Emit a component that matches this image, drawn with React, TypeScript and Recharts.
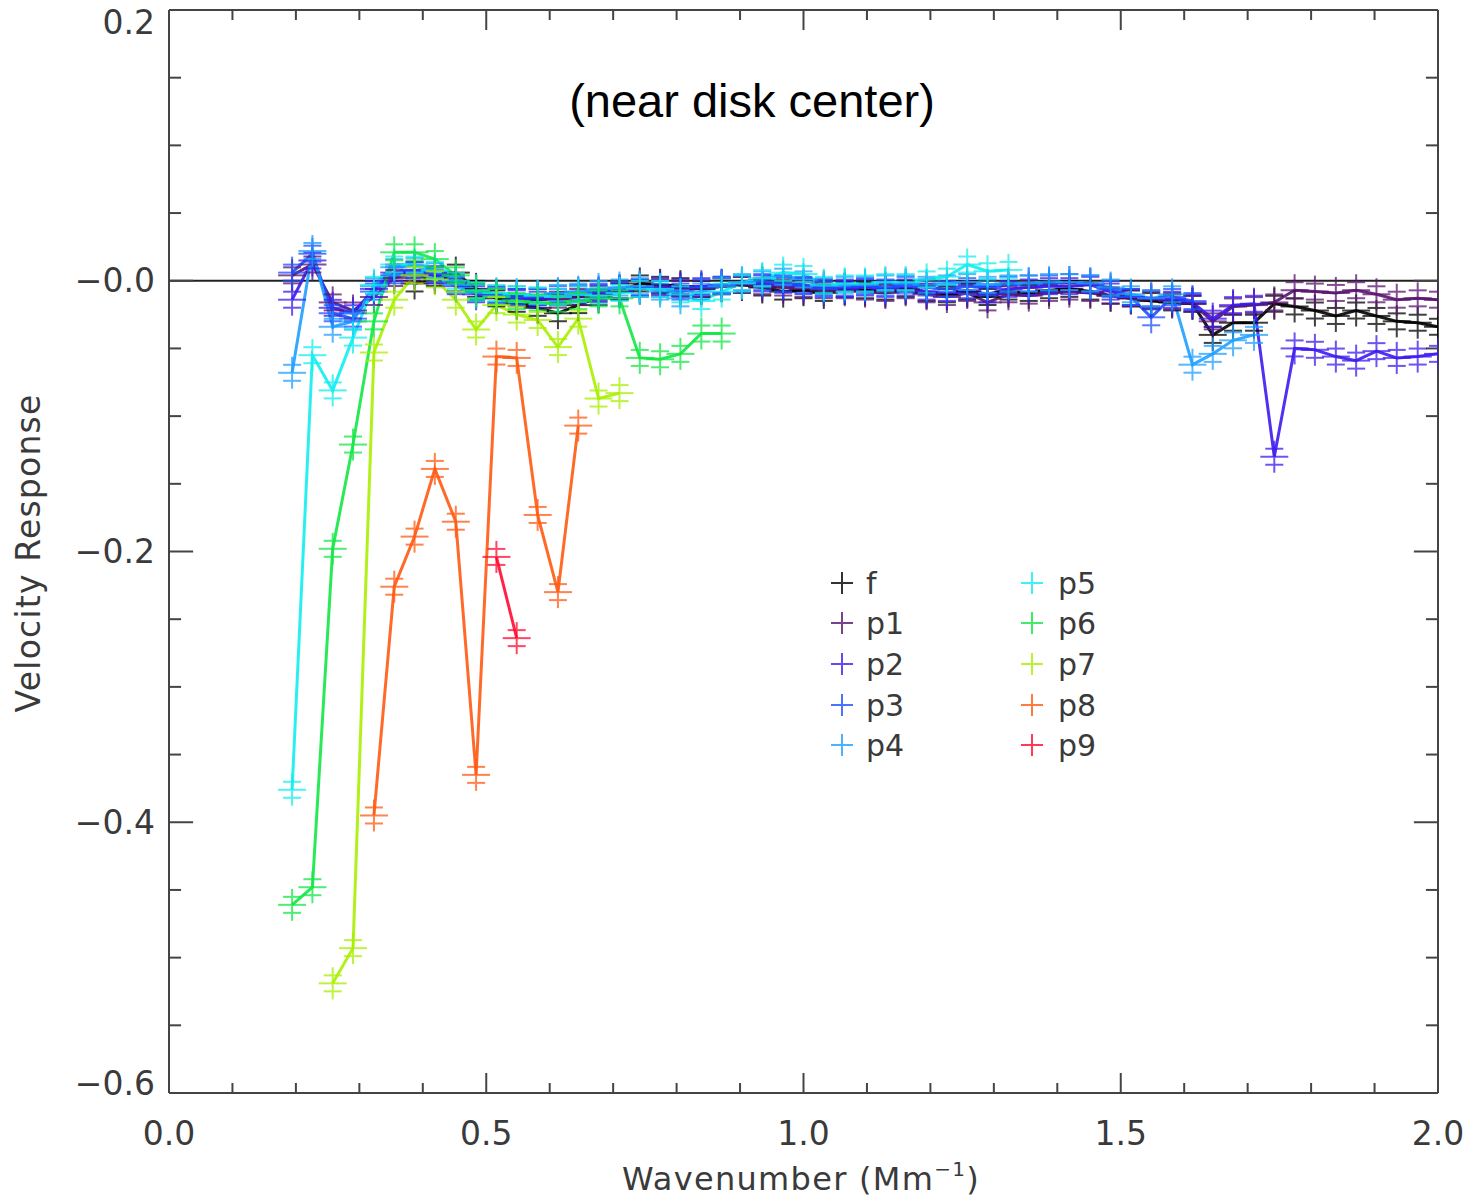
import React from 'react';
import { LineChart, Line, XAxis, YAxis, ReferenceLine } from 'recharts';

// wavenumber grid (Mm^-1)
const K = [
  0.194, 0.226, 0.258, 0.290, 0.323, 0.355, 0.387, 0.419, 0.452, 0.484,
  0.516, 0.548, 0.581, 0.613, 0.645, 0.677, 0.710, 0.742, 0.774, 0.806,
  0.839, 0.871, 0.903, 0.935, 0.968, 1.000, 1.032, 1.065, 1.097, 1.129,
  1.161, 1.194, 1.226, 1.258, 1.290, 1.323, 1.355, 1.387, 1.419, 1.452,
  1.484, 1.516, 1.548, 1.581, 1.613, 1.645, 1.677, 1.710, 1.742, 1.774,
  1.806, 1.839, 1.871, 1.903, 1.935, 1.968, 2.000,
];

// velocity response per mode, starting at K[start]
const F_START = 6;
const F_VALS = [
  -0.002, 0.002, 0.006, -0.006, -0.013, -0.017, -0.020, -0.024, -0.018, -0.012,
  -0.008, -0.002, -0.003, -0.004, -0.006, -0.004, -0.003, -0.005, -0.008, -0.007,
  -0.009, -0.006, -0.007, -0.008, -0.006, -0.009, -0.010, -0.008, -0.012, -0.008,
  -0.009, -0.007, -0.006, -0.008, -0.011, -0.013, -0.015, -0.016, -0.017, -0.040,
  -0.031, -0.031, -0.017, -0.019, -0.022, -0.026, -0.022, -0.026, -0.030, -0.031, -0.034,
];
const P1_START = 0;
const P1_VALS = [
  0.004, 0.012, -0.016, -0.022, -0.012, 0.002, 0.006, 0.004, -0.002, -0.008,
  -0.010, -0.012, -0.012, -0.014, -0.012, -0.010, -0.008, -0.006, -0.005, -0.006,
  -0.006, -0.004, -0.003, -0.004, -0.005, -0.006, -0.007, -0.007, -0.008, -0.009,
  -0.007, -0.010, -0.012, -0.009, -0.016, -0.010, -0.011, -0.009, -0.008, -0.009,
  -0.011, -0.013, -0.014, -0.015, -0.017, -0.030, -0.019, -0.018, -0.016, -0.007,
  -0.008, -0.009, -0.007, -0.010, -0.014, -0.013, -0.014,
];
const P2_START = 0;
const P2_VALS = [
  -0.014, 0.015, -0.020, -0.024, -0.006, 0.006, 0.008, 0.004, -0.004, -0.010,
  -0.012, -0.013, -0.014, -0.012, -0.010, -0.009, -0.007, -0.005, -0.004, -0.005,
  -0.004, -0.003, -0.002, -0.002, -0.003, -0.004, -0.005, -0.006, -0.005, -0.006,
  -0.005, -0.008, -0.009, -0.007, -0.010, -0.006, -0.005, -0.004, -0.004, -0.003,
  -0.008, -0.012, -0.013, -0.014, -0.016, -0.028, -0.018, -0.017, -0.130, -0.050,
  -0.051, -0.056, -0.059, -0.052, -0.057, -0.056, -0.054,
];
const P3_START = 0;
const P3_VALS = [
  0.006, 0.020, -0.024, -0.028, -0.008, 0.004, 0.008, 0.005, -0.002, -0.008,
  -0.011, -0.012, -0.012, -0.010, -0.009, -0.008, -0.007, -0.005, -0.006, -0.008,
  -0.005, -0.003, -0.002, -0.001, -0.002, -0.003, -0.006, -0.005, -0.004, -0.005,
  -0.003, -0.005, -0.006, -0.004, -0.005, -0.003, -0.002, -0.002, -0.001, -0.002,
  -0.006, -0.012, -0.027, -0.012, -0.015,
];
const P4_START = 0;
const P4_VALS = [
  -0.068, 0.022, -0.034, -0.030, -0.004, 0.010, 0.011, 0.007, -0.003, -0.009,
  -0.011, -0.010, -0.011, -0.009, -0.008, -0.006, -0.005, -0.004, -0.008, -0.013,
  -0.008, -0.004, -0.001, 0.001, 0.003, 0.001, -0.004, -0.003, -0.003, -0.002,
  -0.002, -0.003, -0.002, -0.001, -0.003, -0.002, -0.002, -0.001, -0.001, -0.002,
  -0.005, -0.010, -0.013, -0.010, -0.062, -0.054, -0.044, -0.040,
];
const P5_START = 0;
const P5_VALS = [
  -0.376, -0.055, -0.081, -0.042, -0.003, 0.012, 0.012, 0.008, 0.000, -0.007,
  -0.009, -0.010, -0.011, -0.012, -0.010, -0.011, -0.009, -0.006, -0.006, -0.010,
  -0.015, -0.008, -0.002, 0.002, 0.006, 0.005, -0.003, -0.002, -0.002, -0.001,
  -0.001, 0.001, 0.003, 0.012, 0.007, 0.008,
];
const P6_START = 0;
const P6_VALS = [
  -0.461, -0.448, -0.198, -0.121, -0.030, 0.021, 0.021, 0.016, 0.004, -0.008,
  -0.012, -0.015, -0.016, -0.017, -0.015, -0.013, -0.013, -0.057, -0.058, -0.054,
  -0.039, -0.039,
];
const P7_START = 2;
const P7_VALS = [
  -0.519, -0.493, -0.053, -0.014, 0.004, 0.001, -0.014, -0.036, -0.018, -0.025,
  -0.029, -0.049, -0.028, -0.087, -0.083,
];
const P8_START = 4;
const P8_VALS = [
  -0.395, -0.226, -0.189, -0.139, -0.178, -0.365, -0.056, -0.057, -0.173, -0.230, -0.107,
];
const P9_START = 10;
const P9_VALS = [-0.204, -0.264];

const MODE_NAMES = ['f', 'p1', 'p2', 'p3', 'p4', 'p5', 'p6', 'p7', 'p8', 'p9'];
const MODE_COLORS = [
  '#000000', '#5a1470', '#3c1cf0', '#1e50ff', '#1ea0ff',
  '#12eeee', '#12e844', '#a8f000', '#ff5a12', '#ff0a30',
];

// axis ticks
const X_LABEL_TICKS = [0, 0.5, 1, 1.5, 2];
const X_MAJOR = [0.5, 1.0, 1.5];
const X_MINOR = [0.1, 0.2, 0.3, 0.4, 0.6, 0.7, 0.8, 0.9, 1.1, 1.2, 1.3, 1.4, 1.6, 1.7, 1.8, 1.9];
const Y_LABEL_TICKS = [0.2, 0, -0.2, -0.4, -0.6];
const Y_MAJOR = [0, -0.2, -0.4];
const Y_MINOR = [0.15, 0.1, 0.05, -0.05, -0.1, -0.15, -0.25, -0.3, -0.35, -0.45, -0.5, -0.55];

const build = (start: number, vals: number[]) =>
  vals.map((v, i) => ({ k: K[start + i], v }));

const seriesData = [
  build(F_START, F_VALS),
  build(P1_START, P1_VALS),
  build(P2_START, P2_VALS),
  build(P3_START, P3_VALS),
  build(P4_START, P4_VALS),
  build(P5_START, P5_VALS),
  build(P6_START, P6_VALS),
  build(P7_START, P7_VALS),
  build(P8_START, P8_VALS),
  build(P9_START, P9_VALS),
];

const AXIS_COLOR = '#444';
const TEXT_COLOR = '#3a3a3a';
const FONT = '"DejaVu Sans", sans-serif';

const plusDot = (color: string) => (props: any) => {
  const { cx, cy, index } = props;
  if (cx == null || cy == null) return <g key={`e${index}`} />;
  return (
    <g key={`d${index}`} stroke={color} strokeWidth={2} opacity={0.75}>
      <line x1={cx - 14} y1={cy} x2={cx + 14} y2={cy} />
      <line x1={cx} y1={cy - 16} x2={cx} y2={cy + 16} />
      <line x1={cx - 9} y1={cy - 8} x2={cx + 9} y2={cy - 8} />
      <line x1={cx - 9} y1={cy + 8} x2={cx + 9} y2={cy + 8} />
    </g>
  );
};

const YTick = (props: any) => {
  const { x, y, payload } = props;
  const v = payload.value;
  const shift = v > 0.19 ? 12 : v < -0.59 ? -10 : 0;
  const label = v > 0.01 ? v.toFixed(1) : '\u2212' + Math.abs(v).toFixed(1);
  return (
    <text x={x} y={y + shift} textAnchor="end" dominantBaseline="central"
      fontSize={33} fontFamily={FONT} fill={TEXT_COLOR}>
      {label}
    </text>
  );
};

const XTitle = () => (
  <text x={801} y={1190} textAnchor="middle" fontSize={32} fontFamily={FONT} fill={TEXT_COLOR}
    letterSpacing={1.3}>
    Wavenumber (Mm<tspan dy={-14} fontSize={20}>{'\u22121'}</tspan>
    <tspan dy={14} fontSize={32}>)</tspan>
  </text>
);

const YTitle = () => (
  <text x={40} y={553} textAnchor="middle" fontSize={33} fontFamily={FONT} fill={TEXT_COLOR}
    letterSpacing={1.2} transform="rotate(-90 40 553)">
    Velocity Response
  </text>
);

const tickSeg = (key: string, a: { x: number; y: number }, b: { x: number; y: number }) => (
  <ReferenceLine key={key} segment={[a, b]} stroke={AXIS_COLOR} strokeWidth={2} ifOverflow="visible" />
);

const LEGEND_ROWS = [583, 623, 664, 705, 745];

const App: React.FC = () => {
  const xTicks = [
    ...X_MINOR.map((t) => ({ t, len: 0.0074 })),
    ...X_MAJOR.map((t) => ({ t, len: 0.0148 })),
  ];
  const yTicks = [
    ...Y_MINOR.map((t) => ({ t, len: 0.019 })),
    ...Y_MAJOR.map((t) => ({ t, len: 0.038 })),
  ];

  return (
    <div style={{ position: 'absolute', left: 0, top: 0, width: 1473, height: 1202, background: '#fff' }}>
      <LineChart width={1473} height={1202} margin={{ top: 10, right: 35, bottom: 0, left: 0 }}>
        <XAxis
          type="number"
          dataKey="k"
          domain={[0, 2]}
          ticks={X_LABEL_TICKS}
          tickFormatter={(v: number) => v.toFixed(1)}
          height={109}
          tickSize={0}
          tickMargin={29}
          tickLine={false}
          axisLine={{ stroke: AXIS_COLOR, strokeWidth: 2 }}
          tick={{ fontSize: 33, fill: TEXT_COLOR, fontFamily: FONT }}
          label={XTitle}
          allowDataOverflow
        />
        <YAxis
          type="number"
          domain={[-0.6, 0.2]}
          ticks={Y_LABEL_TICKS}
          width={169}
          tickSize={0}
          tickMargin={14}
          tickLine={false}
          axisLine={{ stroke: AXIS_COLOR, strokeWidth: 2 }}
          tick={YTick}
          label={YTitle}
          allowDataOverflow
        />
        <ReferenceLine y={0.2} stroke={AXIS_COLOR} strokeWidth={2} />
        <ReferenceLine x={2} stroke={AXIS_COLOR} strokeWidth={2} />
        <ReferenceLine y={0} stroke="#222" strokeWidth={2} />
        {xTicks.map(({ t, len }) => tickSeg(`xb${t}`, { x: t, y: -0.6 }, { x: t, y: -0.6 + len }))}
        {xTicks.map(({ t, len }) => tickSeg(`xt${t}`, { x: t, y: 0.2 }, { x: t, y: 0.2 - len }))}
        {yTicks.map(({ t, len }) => tickSeg(`yl${t}`, { x: 0, y: t }, { x: len, y: t }))}
        {yTicks.map(({ t, len }) => tickSeg(`yr${t}`, { x: 2, y: t }, { x: 2 - len, y: t }))}
        {seriesData.map((d, i) => (
          <Line
            key={MODE_NAMES[i]}
            name={MODE_NAMES[i]}
            data={d}
            dataKey="v"
            type="linear"
            stroke={MODE_COLORS[i]}
            strokeWidth={3}
            strokeOpacity={0.9}
            dot={plusDot(MODE_COLORS[i])}
            activeDot={false}
            isAnimationActive={false}
          />
        ))}
      </LineChart>
      <svg width={1473} height={1202} style={{ position: 'absolute', left: 0, top: 0, pointerEvents: 'none' }}>
        <text x={752} y={117} textAnchor="middle" fontSize={47} fontFamily='"Liberation Sans", Arial, sans-serif' fill="#000">
          (near disk center)
        </text>
        {MODE_NAMES.map((name, i) => {
          const col = i < 5 ? 0 : 1;
          const row = LEGEND_ROWS[i % 5];
          const px = col === 0 ? 842 : 1032;
          const tx = col === 0 ? 866 : 1058;
          return (
            <g key={name}>
              <g stroke={MODE_COLORS[i]} strokeWidth={2} opacity={0.8}>
                <line x1={px - 11} y1={row} x2={px + 11} y2={row} />
                <line x1={px} y1={row - 11} x2={px} y2={row + 11} />
              </g>
              <text x={tx} y={row} dominantBaseline="central" fontSize={30} fontFamily={FONT} fill={TEXT_COLOR}>
                {name}
              </text>
            </g>
          );
        })}
      </svg>
    </div>
  );
};

export default App;
